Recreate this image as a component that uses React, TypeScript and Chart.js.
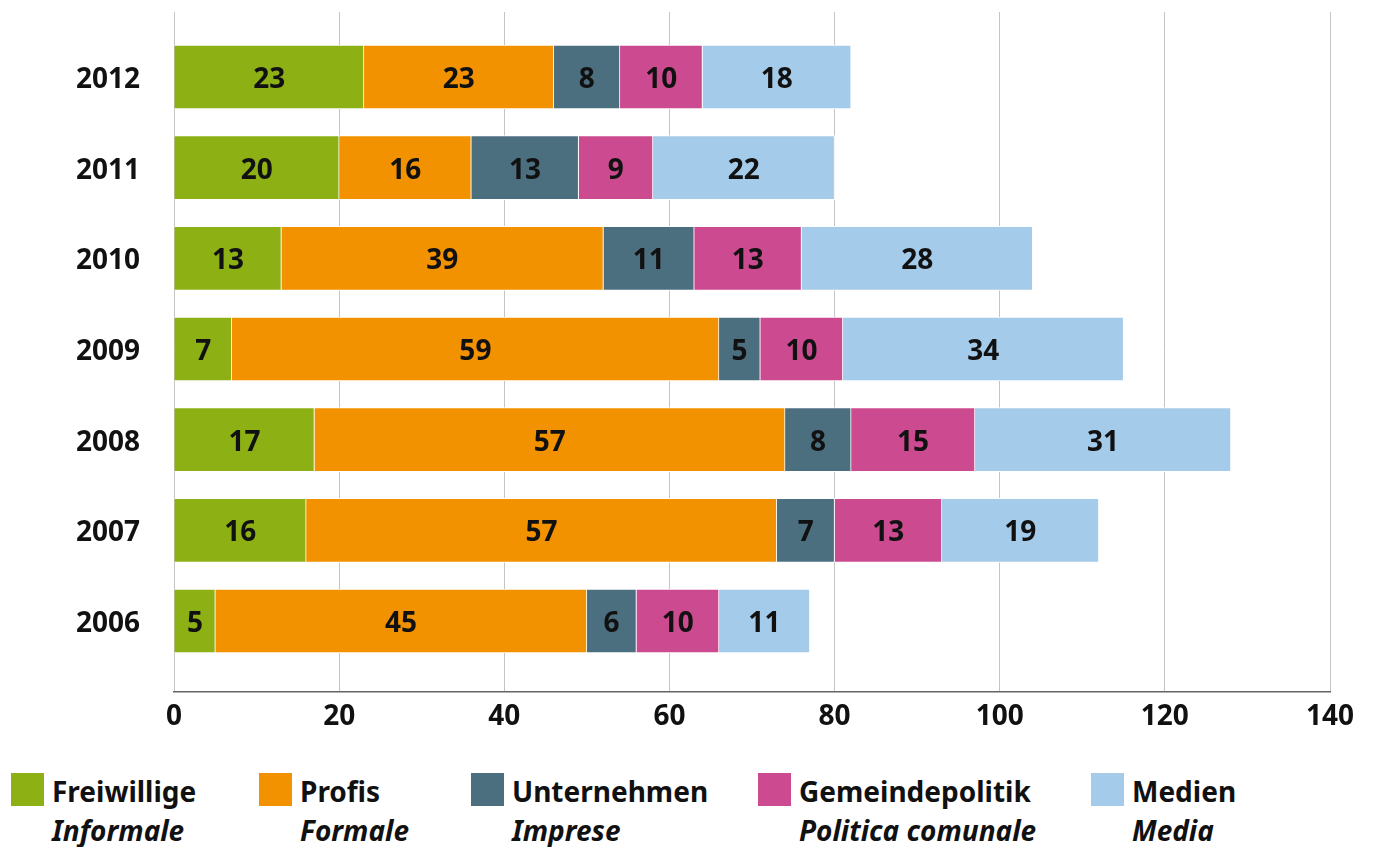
import React, { useEffect, useRef } from "react";
import { Chart, registerables } from "chart.js";

Chart.register(...registerables);

const categories = ["2012", "2011", "2010", "2009", "2008", "2007", "2006"];
const seriesDe = ["Freiwillige", "Profis", "Unternehmen", "Gemeindepolitik", "Medien"];
const seriesIt = ["Informale", "Formale", "Imprese", "Politica comunale", "Media"];
const colors = ["#8db115", "#f39200", "#4c6f80", "#cc4a8f", "#a5cbea"];

const freiwillige = [23, 20, 13, 7, 17, 16, 5];
const profis = [23, 16, 39, 59, 57, 57, 45];
const unternehmen = [8, 13, 11, 5, 8, 7, 6];
const gemeindepolitik = [10, 9, 13, 10, 15, 13, 10];
const medien = [18, 22, 28, 34, 31, 19, 11];

const xTicks = [0, 20, 40, 60, 80, 100, 120, 140];

const FONT = '"Noto Sans", "DejaVu Sans", sans-serif';
const legendLeft = [11, 259, 471, 758, 1091];

export default function App() {
  const ref = useRef<HTMLCanvasElement | null>(null);

  useEffect(() => {
    if (!ref.current) return;
    const all = [freiwillige, profis, unternehmen, gemeindepolitik, medien];
    const labelPlugin = {
      id: "segLabels",
      afterDatasetsDraw(chart: any) {
        const ctx = chart.ctx;
        ctx.save();
        ctx.font = `bold 28px ${FONT}`;
        ctx.fillStyle = "#111";
        ctx.textAlign = "center";
        ctx.textBaseline = "middle";
        chart.data.datasets.forEach((ds: any, di: number) => {
          const meta = chart.getDatasetMeta(di);
          meta.data.forEach((el: any, i: number) => {
            const v = all[di][i];
            const cx = (el.x + el.base) / 2;
            ctx.fillText(String(v), cx, el.y + 3);
          });
        });
        ctx.restore();
      },
    };

    const chart = new Chart(ref.current, {
      type: "bar",
      data: {
        datasets: all.map((arr, di) => ({
          label: seriesDe[di],
          data: arr.map((v, i) => ({ x: v, y: i })),
          backgroundColor: colors[di],
          borderColor: "#ffffff",
          borderWidth: 1,
          barThickness: 64,
        })),
      },
      options: {
        indexAxis: "y",
        animation: false,
        responsive: false,
        layout: { padding: { top: 12, right: 43, left: 0, bottom: 0 } },
        plugins: { legend: { display: false }, tooltip: { enabled: false } },
        scales: {
          x: {
            type: "linear",
            stacked: true,
            min: 0,
            max: 140,
            afterBuildTicks: (s: any) => {
              s.ticks = xTicks.map((v) => ({ value: v }));
            },
            grid: { color: "#c4c4c4", lineWidth: 1, drawTicks: false },
            border: { display: true, color: "#666666", width: 1.5 },
            ticks: {
              font: { family: FONT, size: 28, weight: "bold" },
              color: "#111",
              padding: 8,
            },
            afterFit: (s: any) => {
              s.height = 68;
              s.paddingTop = 0;
              s.paddingBottom = 0;
            },
          },
          y: {
            type: "linear",
            stacked: true,
            reverse: true,
            offset: false,
            grace: 0,
            min: -0.717,
            max: 6.783,
            afterBuildTicks: (s: any) => {
              s.ticks = categories.map((_, i) => ({ value: i }));
            },
            grid: { display: false, drawTicks: false },
            border: { display: false },
            ticks: {
              callback: (v: any) => categories[v as number],
              font: { family: FONT, size: 28, weight: "bold" },
              color: "#111",
              padding: 34,
              labelOffset: 3,
            },
            afterFit: (s: any) => {
              s.width = 174;
              s.paddingTop = 0;
              s.paddingBottom = 0;
            },
          },
        },
      } as any,
      plugins: [labelPlugin],
    });
    return () => chart.destroy();
  }, []);

  return (
    <div style={{ position: "absolute", left: 0, top: 0, width: 1373, height: 847, background: "#fff", overflow: "hidden" }}>
      <canvas ref={ref} width={1373} height={760} style={{ position: "absolute", left: 0, top: 0, width: 1373, height: 760 }} />
      {seriesDe.map((name, i) => (
        <React.Fragment key={name}>
          <div style={{ position: "absolute", left: legendLeft[i], top: 773, width: 33, height: 33, background: colors[i] }} />
          <div style={{ position: "absolute", left: legendLeft[i] + 41, top: 777, font: `bold 28px ${FONT}`, lineHeight: "28px", color: "#111", whiteSpace: "nowrap" }}>{name}</div>
          <div style={{ position: "absolute", left: legendLeft[i] + 41, top: 816, font: `italic bold 28px ${FONT}`, lineHeight: "28px", color: "#111", whiteSpace: "nowrap" }}>{seriesIt[i]}</div>
        </React.Fragment>
      ))}
    </div>
  );
}
